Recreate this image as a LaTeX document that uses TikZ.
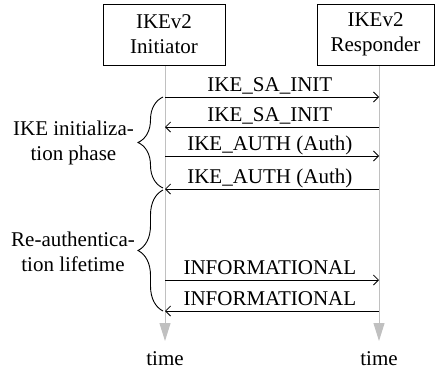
\documentclass[tikz,border=0pt]{standalone}
\usepackage{fontspec}
\setmainfont{Liberation Serif}
\usetikzlibrary{arrows.meta,decorations.pathreplacing}
\definecolor{lifegray}{RGB}{192,192,192}
\begin{document}
\begin{tikzpicture}[x=1pt,y=-1pt,
  every node/.style={font=\fontsize{21}{25}\selectfont},
  actor/.style={draw,line width=0.9pt,minimum height=61pt,align=center,inner sep=0pt,fill=white},
  life/.style={draw=lifegray,line width=1pt,-{Triangle[length=18pt,width=11pt,fill=lifegray]}},
  msg/.style={draw=black,line width=0.8pt,-{Straight Barb[length=5pt,width=10pt]}},
  msglbl/.style={anchor=base,inner sep=0pt,yshift=6pt,pos=0.49},
  bracestyle/.style={draw,line width=0.9pt,decorate,decoration={brace,amplitude=25pt}},
  sidelbl/.style={align=center,inner sep=0pt,anchor=east},
  timelbl/.style={anchor=base,inner sep=0pt}
]
\useasboundingbox (0,0) rectangle (435,373);

% lifelines
\coordinate (itop) at (165,65);
\coordinate (ibot) at (165,341);
\coordinate (rtop) at (379,65);
\coordinate (rbot) at (379,341);
\draw[life] (itop) -- (ibot);
\draw[life] (rtop) -- (rbot);

% actors
\node[actor,minimum width=122pt] (ini) at (164,34.5) {IKEv2\\Initiator};
\node[actor,minimum width=117pt] (res) at (375.5,34.5) {IKEv2\\Responder};

% message end points
\coordinate (i1) at (165,97);  \coordinate (r1) at (379,97);
\coordinate (i2) at (165,127); \coordinate (r2) at (379,127);
\coordinate (i3) at (165,156); \coordinate (r3) at (379,156);
\coordinate (i4) at (165,189); \coordinate (r4) at (379,189);
\coordinate (i5) at (165,280); \coordinate (r5) at (379,280);
\coordinate (i6) at (165,311); \coordinate (r6) at (379,311);

\draw[msg] (i1) -- node[msglbl] (m1) {IKE\_SA\_INIT} (r1);
\draw[msg] (r2) -- node[msglbl,pos=0.51] (m2) {IKE\_SA\_INIT} (i2);
\draw[msg] (i3) -- node[msglbl] (m3) {IKE\_AUTH (Auth)} (r3);
\draw[msg] (r4) -- node[msglbl,pos=0.51] (m4) {IKE\_AUTH (Auth)} (i4);
\draw[msg] (i5) -- node[msglbl] (m5) {INFORMATIONAL} (r5);
\draw[msg] (r6) -- node[msglbl,pos=0.51] (m6) {INFORMATIONAL} (i6);

% braces
\coordinate (b1top) at (163,97);
\coordinate (b1bot) at (163,188);
\coordinate (b2top) at (163,190);
\coordinate (b2bot) at (163,311);
\draw[bracestyle] (b1bot) -- (b1top);
\draw[bracestyle] (b2bot) -- (b2top);

% side labels
\node[sidelbl] (phase) at (134,142.5) {IKE initializa-\\tion phase};
\node[sidelbl] (life) at (135,251.5) {Re-authentica-\\tion lifetime};

% time labels
\node[timelbl] (t1) at (165,365) {time};
\node[timelbl] (t2) at (379,365) {time};
\end{tikzpicture}
\end{document}
